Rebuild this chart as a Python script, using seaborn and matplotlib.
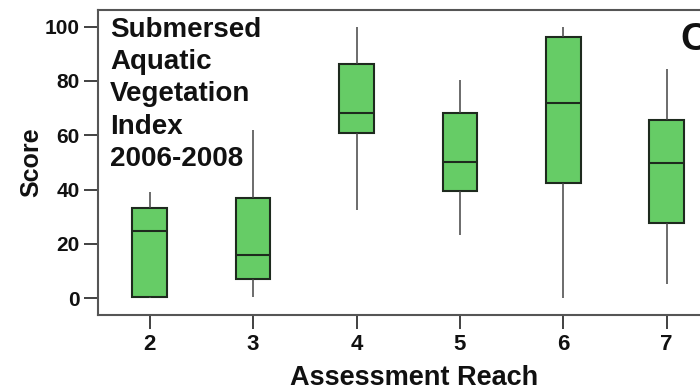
import numpy as np
import pandas as pd
import matplotlib
matplotlib.use("Agg")
import matplotlib.pyplot as plt
import seaborn as sns

# Data: five-number summaries per assessment reach
reaches = ["2", "3", "4", "5", "6", "7"]
whisker_low = [0.0, 0.4, 32.3, 23.3, 0.0, 5.2]
q1 = [0.5, 6.9, 60.7, 39.6, 42.5, 27.6]
median = [24.7, 15.8, 68.3, 50.2, 71.7, 49.8]
q3 = [33.1, 36.8, 86.3, 68.0, 96.3, 65.6]
whisker_high = [39.2, 62.0, 100.0, 80.4, 100.0, 84.3]
y_ticks = [0, 20, 40, 60, 80, 100]

rows = []
for i, r in enumerate(reaches):
    for v in (whisker_low[i], q1[i], median[i], q3[i], whisker_high[i]):
        rows.append({"Assessment Reach": r, "Score": v})
df = pd.DataFrame(rows)

sns.set_theme(style="white")
plt.rcParams["font.family"] = ["Liberation Sans", "DejaVu Sans"]

fig = plt.figure(figsize=(7.0, 3.91), dpi=100)
ax = fig.add_axes([98 / 700, 76 / 391, (821.8 - 98) / 700, 305 / 391])

sns.boxplot(
    data=df, x="Assessment Reach", y="Score", order=reaches, ax=ax,
    whis=(0, 100), width=0.335, color="#66CC66", saturation=1,
    showcaps=False, fliersize=0,
    boxprops=dict(facecolor="#66CC66", edgecolor="#1e2a1e", linewidth=1.5),
    medianprops=dict(color="#1e2a1e", linewidth=1.5),
    whiskerprops=dict(color="#444444", linewidth=1.1),
)

ax.set_xlim(-0.5, 6.5)
ax.set_ylim(-6.2, 106.1)
ax.set_yticks(y_ticks)

for s in ax.spines.values():
    s.set_color("#555555")
    s.set_linewidth(1.5)
    s.set_visible(True)

ax.tick_params(axis="both", which="both", direction="out", length=10,
               width=1.3, color="#333333", left=True, bottom=True)
for lab in ax.get_yticklabels():
    lab.set_fontweight("bold")
    lab.set_fontsize(15)
    lab.set_color("#111111")
for lab in ax.get_xticklabels():
    lab.set_fontweight("bold")
    lab.set_fontsize(16)
    lab.set_color("#111111")
ax.tick_params(axis="y", pad=3)
ax.tick_params(axis="x", pad=4)

ax.set_xlabel("Assessment Reach", fontsize=19.5, fontweight="bold", color="#111111")
ax.xaxis.set_label_coords((414 - 98) / 723.8, -0.164)
ax.set_ylabel("Score", fontsize=18, fontweight="bold", color="#111111")
ax.yaxis.set_label_coords(-0.076, 0.5)

fig.text(110 / 700, 1 - 17 / 391, "Submersed\nAquatic\nVegetation\nIndex\n2006-2008",
         ha="left", va="top", fontsize=20, fontweight="bold", color="#111111",
         linespacing=1.31)
fig.text(680 / 700, 1 - 22 / 391, "C", ha="left", va="top", fontsize=28,
         fontweight="bold", color="#111111")

fig.savefig("out.png", dpi=100)
